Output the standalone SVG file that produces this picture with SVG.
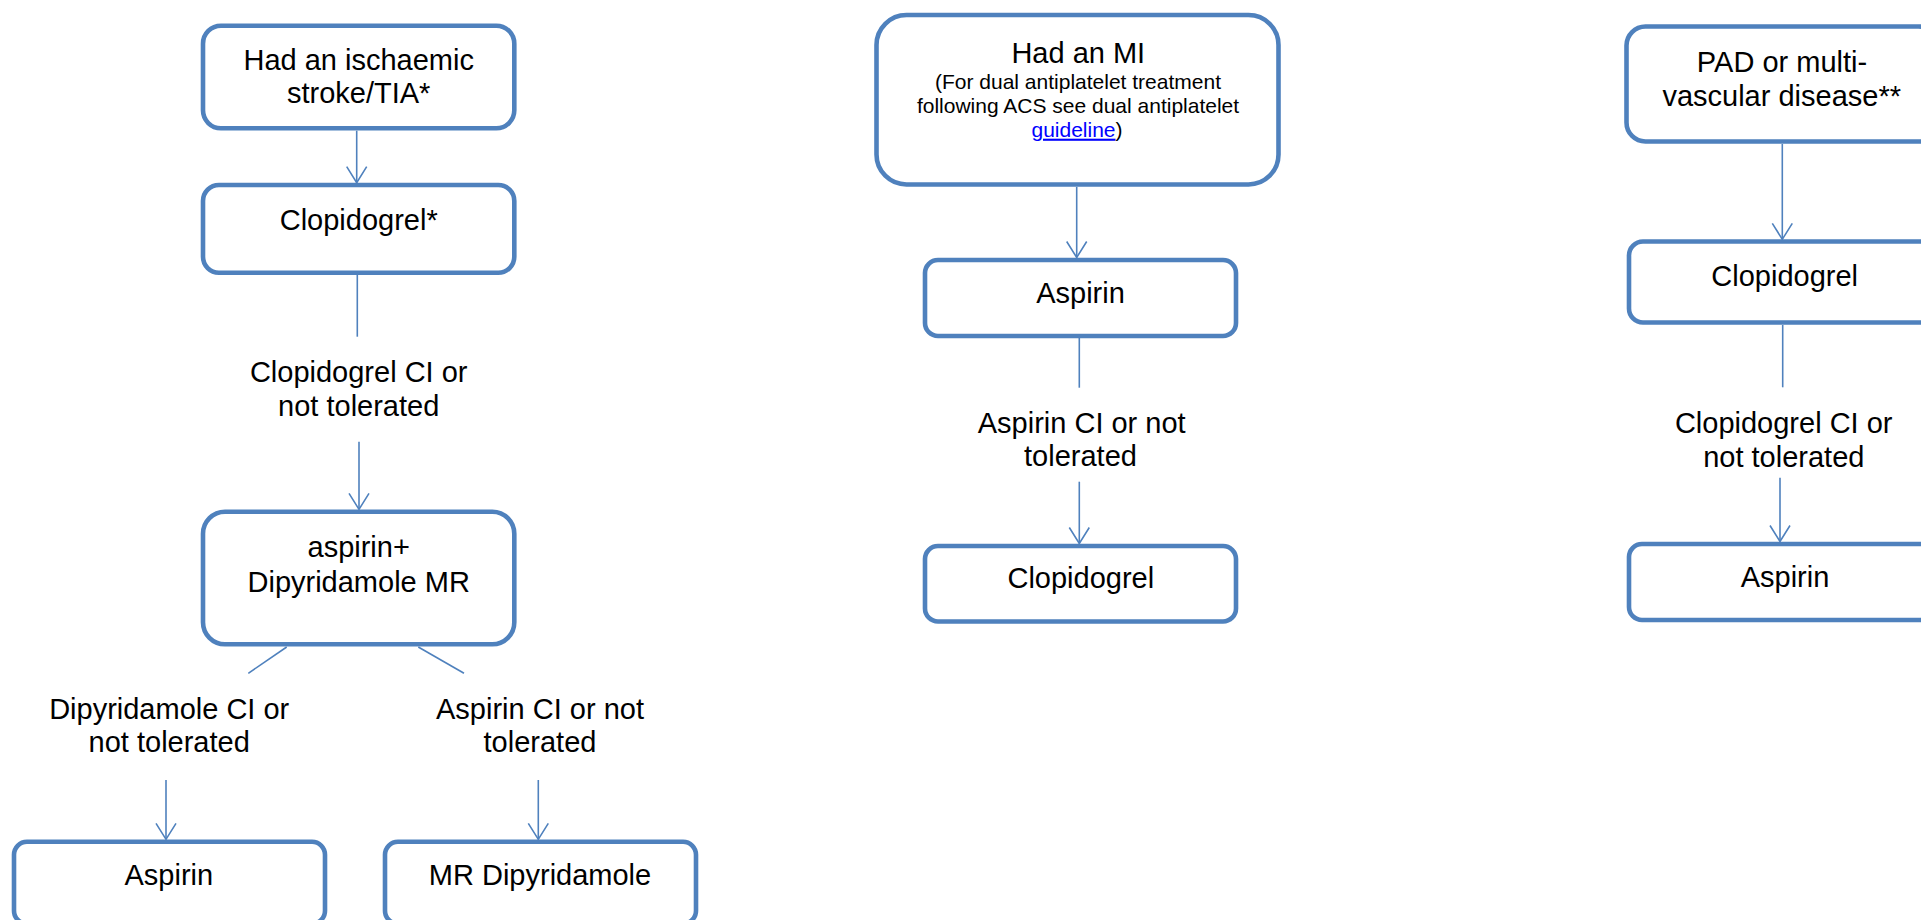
<svg xmlns="http://www.w3.org/2000/svg" width="1921" height="920" viewBox="0 0 1921 920">
<defs>
<style>
.box{fill:#fff;stroke:#4F81BD;stroke-width:4.6}
.t{font-family:"Liberation Sans",Arial,sans-serif;font-size:29px;fill:#000;text-anchor:middle}
.s{font-family:"Liberation Sans",Arial,sans-serif;font-size:21px;fill:#000;text-anchor:middle}
.c{fill:none;stroke:#4F81BD;stroke-width:1.6}
.link{fill:#0000FF;text-decoration:underline}
</style>
<marker id="ah" viewBox="0 0 20 24" refX="18" refY="12" markerWidth="20" markerHeight="24" markerUnits="userSpaceOnUse" orient="auto">
<path d="M2,2 L18,12 L2,22" fill="none" stroke="#4F81BD" stroke-width="1.6"/>
</marker>
</defs>
<rect width="1921" height="920" fill="#fff"/>
<g id="connectors">
<line class="c" x1="356.7" y1="130.7" x2="356.7" y2="182.7" marker-end="url(#ah)"/>
<line class="c" x1="357.3" y1="275" x2="357.3" y2="336.7"/>
<line class="c" x1="359" y1="441.7" x2="359" y2="509.3" marker-end="url(#ah)"/>
<line class="c" x1="286.7" y1="647" x2="248.3" y2="673.3"/>
<line class="c" x1="418.3" y1="647" x2="464" y2="673.3"/>
<line class="c" x1="166" y1="780" x2="166" y2="839.3" marker-end="url(#ah)"/>
<line class="c" x1="538.3" y1="780" x2="538.3" y2="839.3" marker-end="url(#ah)"/>
<line class="c" x1="1076.7" y1="187" x2="1076.7" y2="257.5" marker-end="url(#ah)"/>
<line class="c" x1="1079.3" y1="338" x2="1079.3" y2="387.7"/>
<line class="c" x1="1079.3" y1="481.7" x2="1079.3" y2="543.5" marker-end="url(#ah)"/>
<line class="c" x1="1782.3" y1="144" x2="1782.3" y2="239.3" marker-end="url(#ah)"/>
<line class="c" x1="1782.7" y1="325" x2="1782.7" y2="387.3"/>
<line class="c" x1="1780" y1="477.7" x2="1780" y2="541.5" marker-end="url(#ah)"/>
</g>
<g id="n_stroke">
<rect class="box" x="203" y="25.7" width="311.3" height="102.6" rx="18"/>
<text class="t" x="358.7" y="70">Had an ischaemic</text>
<text class="t" x="358.7" y="103.3">stroke/TIA*</text>
</g>
<g id="n_clop1">
<rect class="box" x="203" y="185" width="311.3" height="87.7" rx="16"/>
<text class="t" x="358.7" y="230">Clopidogrel*</text>
</g>
<g id="l_clop1">
<text class="t" x="358.7" y="381.7">Clopidogrel CI or</text>
<text class="t" x="358.7" y="416">not tolerated</text>
</g>
<g id="n_aspdip">
<rect class="box" x="203" y="511.7" width="311.3" height="132.6" rx="22"/>
<text class="t" x="358.7" y="556.7">aspirin+</text>
<text class="t" x="358.7" y="591.7">Dipyridamole MR</text>
</g>
<g id="l_dip">
<text class="t" x="169.2" y="719.3">Dipyridamole CI or</text>
<text class="t" x="169.2" y="751.7">not tolerated</text>
</g>
<g id="l_asp1">
<text class="t" x="540" y="719.3">Aspirin CI or not</text>
<text class="t" x="540" y="751.7">tolerated</text>
</g>
<g id="n_asp1">
<rect class="box" x="14" y="841.7" width="311" height="82" rx="13"/>
<text class="t" x="168.8" y="885">Aspirin</text>
</g>
<g id="n_mrdip">
<rect class="box" x="385" y="841.7" width="311" height="82" rx="13"/>
<text class="t" x="540" y="885">MR Dipyridamole</text>
</g>
<g id="n_mi">
<rect class="box" x="876.5" y="15" width="402" height="169.5" rx="30"/>
<text class="t" x="1078.3" y="62.7">Had an MI</text>
<text class="s" x="1078" y="89.3">(For dual antiplatelet treatment</text>
<text class="s" x="1078" y="113.3">following ACS see dual antiplatelet</text>
<text class="s" x="1077" y="136.7"><tspan class="link">guideline</tspan>)</text>
</g>
<g id="n_asp2">
<rect class="box" x="925" y="260" width="311" height="76" rx="13"/>
<text class="t" x="1080.5" y="303.3">Aspirin</text>
</g>
<g id="l_asp2">
<text class="t" x="1081.7" y="432.7">Aspirin CI or not</text>
<text class="t" x="1080.5" y="466">tolerated</text>
</g>
<g id="n_clop2">
<rect class="box" x="925" y="546" width="311" height="75.5" rx="13"/>
<text class="t" x="1080.8" y="588.3">Clopidogrel</text>
</g>
<g id="n_pad">
<rect class="box" x="1626.5" y="26.5" width="311" height="115" rx="19"/>
<text class="t" x="1782" y="71.7">PAD or multi-</text>
<text class="t" x="1781.7" y="106">vascular disease**</text>
</g>
<g id="n_clop3">
<rect class="box" x="1629" y="241.5" width="311" height="81" rx="14"/>
<text class="t" x="1784.7" y="286">Clopidogrel</text>
</g>
<g id="l_clop3">
<text class="t" x="1783.7" y="432.7">Clopidogrel CI or</text>
<text class="t" x="1783.8" y="466.7">not tolerated</text>
</g>
<g id="n_asp3">
<rect class="box" x="1629" y="544" width="311" height="76" rx="13"/>
<text class="t" x="1785" y="586.7">Aspirin</text>
</g>
</svg>
